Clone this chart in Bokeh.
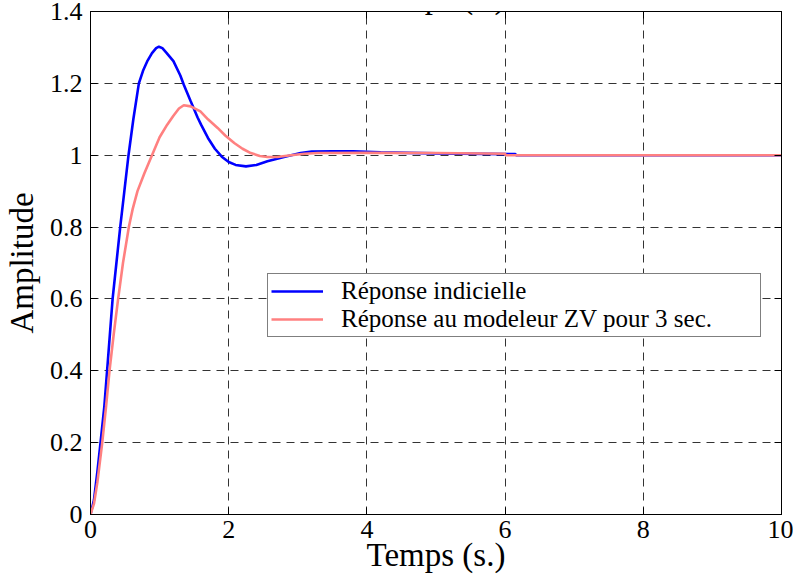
from bokeh.plotting import figure
from bokeh.models import (Range1d, FixedTicker, LinearAxis, Label, Legend,
                          LegendItem, CustomLabelingPolicy)
from bokeh.embed import file_html
from bokeh.resources import INLINE

# ---------------- data ----------------
t_step = [0, 0.05, 0.1, 0.145, 0.2, 0.24, 0.28, 0.32, 0.375, 0.43, 0.49, 0.55,
          0.62, 0.70, 0.76, 0.82, 0.89, 0.95, 0.99, 1.04, 1.1, 1.2, 1.3, 1.35,
          1.45, 1.55, 1.6, 1.7, 1.8, 1.9, 2.0, 2.1, 2.25, 2.4, 2.56, 2.8, 3.04,
          3.2, 3.5, 3.8, 4.2, 5.0, 6.15, 6.16, 10]
y_step = [0, 0.04, 0.12, 0.2, 0.3, 0.4, 0.5, 0.6, 0.7, 0.8, 0.9, 1.0,
          1.1, 1.2, 1.235, 1.261, 1.284, 1.298, 1.302, 1.298, 1.285, 1.262, 1.222, 1.196,
          1.15, 1.105, 1.085, 1.048, 1.018, 0.996, 0.981, 0.973, 0.969, 0.973, 0.983, 0.995, 1.006,
          1.01, 1.011, 1.011, 1.008, 1.005, 1.003, 1.0, 1.0]

t_zv = [0, 0.05, 0.1, 0.17, 0.225, 0.275, 0.335, 0.40, 0.47, 0.555, 0.61, 0.68,
        0.78, 0.89, 1.0, 1.11, 1.2, 1.28, 1.35, 1.45, 1.59, 1.7, 1.84, 1.95,
        2.08, 2.2, 2.32, 2.45, 2.56, 2.7, 2.9, 3.1, 3.29, 4.0, 5.0, 6.0, 6.01, 10]
y_zv = [0, 0.03, 0.09, 0.2, 0.3, 0.4, 0.5, 0.6, 0.7, 0.8, 0.85, 0.9,
        0.95, 1.0, 1.05, 1.085, 1.11, 1.13, 1.139, 1.136, 1.122, 1.10, 1.076, 1.055,
        1.034, 1.018, 1.006, 0.998, 0.995, 0.995, 1.0, 1.004, 1.006, 1.007, 1.006, 1.004, 1.0, 1.0]

x_ticks = [0, 2, 4, 6, 8, 10]
x_tick_labels = ["0", "2", "4", "6", "8", "10"]
y_ticks = [0, 0.2, 0.4, 0.6, 0.8, 1.0, 1.2, 1.4]
y_tick_labels = ["0", "0.2", "0.4", "0.6", "0.8", "1", "1.2", "1.4"]

series_names = ["Réponse indicielle", "Réponse au modeleur ZV pour 3 sec."]
series_colors = ["#0000FF", "#FF8080"]
x_label = "Temps (s.)"
y_label = "Amplitude"
title_text = "Temps (s.)"

FONT = "Liberation Serif"

p = figure(width=793, height=582,
           x_range=Range1d(0, 10), y_range=Range1d(0, 1.4),
           output_backend="svg", toolbar_location=None,
           min_border_left=90, min_border_right=12,
           min_border_top=11, min_border_bottom=68)
p.background_fill_color = "white"
p.border_fill_color = "white"
p.outline_line_color = "black"
p.outline_line_width = 1

# axes
for ax in p.xaxis:
    ax.ticker = FixedTicker(ticks=x_ticks)
    ax.major_label_overrides = {float(v): s for v, s in zip(x_ticks, x_tick_labels)}
    ax.major_label_standoff = 6
    ax.axis_label = x_label
    ax.axis_label_standoff = -4
for ax in p.yaxis:
    ax.ticker = FixedTicker(ticks=y_ticks)
    ax.major_label_overrides = {float(v): s for v, s in zip(y_ticks, y_tick_labels)}
    ax.major_label_standoff = 8
    ax.axis_label = y_label
    ax.axis_label_standoff = 7
for ax in list(p.xaxis) + list(p.yaxis):
    ax.major_label_text_font = FONT
    ax.major_label_text_font_size = "26px"
    ax.major_label_text_color = "black"
    ax.axis_label_text_font = FONT
    ax.axis_label_text_font_size = "33px"
    ax.axis_label_text_font_style = "normal"
    ax.axis_label_text_color = "black"
    ax.major_tick_in = 7
    ax.major_tick_out = 0
    ax.minor_tick_in = 0
    ax.minor_tick_out = 0
    ax.axis_line_color = "black"
    ax.major_tick_line_color = "black"

# ticks on top and right edges (no labels)
top_ax = LinearAxis(ticker=FixedTicker(ticks=x_ticks),
                    major_label_policy=CustomLabelingPolicy(code="return new Set()"),
                    major_label_text_font_size="1px",
                    major_label_standoff=0, axis_label_standoff=0,
                    major_tick_in=7, major_tick_out=0,
                    minor_tick_in=0, minor_tick_out=0, axis_line_color="black")
right_ax = LinearAxis(ticker=FixedTicker(ticks=y_ticks),
                      major_label_policy=CustomLabelingPolicy(code="return new Set()"),
                      major_label_text_font_size="1px",
                      major_label_standoff=0, axis_label_standoff=0,
                      major_tick_in=7, major_tick_out=0,
                      minor_tick_in=0, minor_tick_out=0, axis_line_color="black")
p.add_layout(top_ax, "above")
p.add_layout(right_ax, "right")

# grid
p.xgrid.ticker = FixedTicker(ticks=x_ticks)
p.ygrid.ticker = FixedTicker(ticks=y_ticks)
for g in (p.xgrid, p.ygrid):
    g.grid_line_color = "#333333"
    g.grid_line_dash = "8 6"
    g.grid_line_width = 1

# lines
r1 = p.line(t_step, y_step, line_color=series_colors[0], line_width=2.6)
r2 = p.line(t_zv, y_zv, line_color=series_colors[1], line_width=2.6)

legend = Legend(items=[LegendItem(label=series_names[0], renderers=[r1]),
                       LegendItem(label=series_names[1], renderers=[r2])],
                location=(177, 177))
legend.label_text_font = FONT
legend.label_text_font_size = "25px"
legend.label_text_color = "black"
legend.padding = 3
legend.spacing = 0
legend.margin = 0
legend.glyph_width = 52
legend.glyph_height = 28
legend.label_height = 28
legend.label_standoff = 18
legend.label_width = 416
legend.border_line_color = "black"
legend.border_line_width = 1
legend.background_fill_color = "white"
legend.background_fill_alpha = 1
p.add_layout(legend, "center")

# cropped title at the very top
p.add_layout(Label(x=5, y=1.4, y_offset=-3, text=title_text, text_font=FONT,
                   text_font_size="33px", text_align="center",
                   text_baseline="bottom", text_color="black"))

open("out.html", "w").write(file_html(p, INLINE))
